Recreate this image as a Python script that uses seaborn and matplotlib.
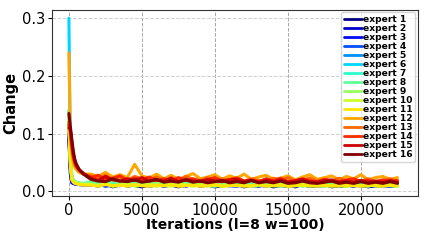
import numpy as np
import pandas as pd
import matplotlib
matplotlib.use("Agg")
import matplotlib.pyplot as plt
import seaborn as sns

# iteration positions
iterations = [0, 100, 200, 300, 400, 500, 700, 1000] + list(range(1500, 23000, 500))

# values in units of 1e-3
early = {
    1: [95, 30, 16, 14, 13, 13, 12, 12],
    2: [100, 40, 18, 15, 14, 13, 12, 12],
    3: [90, 35, 15, 14, 13, 12, 12, 11],
    4: [110, 45, 20, 16, 15, 14, 13, 12],
    5: [120, 50, 22, 17, 15, 14, 13, 13],
    6: [300, 60, 25, 18, 16, 15, 14, 13],
    7: [140, 55, 25, 19, 17, 16, 14, 13],
    8: [140, 60, 26, 20, 18, 16, 15, 14],
    9: [130, 55, 24, 19, 17, 15, 14, 13],
    10: [120, 50, 22, 18, 16, 15, 13, 12],
    11: [110, 45, 20, 16, 14, 13, 12, 11],
    12: [240, 95, 65, 50, 42, 38, 33, 30],
    13: [120, 100, 75, 58, 48, 42, 36, 30],
    14: [115, 105, 80, 62, 50, 44, 37, 31],
    15: [110, 108, 85, 65, 53, 46, 38, 31],
    16: [135, 112, 90, 70, 56, 48, 38, 30],
}
late = {
    1: [12,9,13,8,11,13,10,8,11,12, 9,11,8,12,13,9,11,8,10,12, 12,8,11,9,12,8,10,11,8,12, 9,10,12,8,10,11,9,12,8,10, 11,9,10],
    2: [13,11,28,12,13,10,12,11,12,10, 12,11,13,10,12,11,10,24,11,10, 12,11,9,11,12,10,11,9,12,11, 9,11,10,12,9,11,10,11,10,9, 11,12,10],
    3: [11,13,9,11,14,9,11,13,9,11, 10,13,11,9,12,10,13,9,11,10, 9,12,10,11,9,12,10,9,11,10, 12,9,10,11,9,10,12,9,10,11, 9,10,11],
    4: [13,11,14,12,10,14,12,11,14,10, 12,13,10,14,12,10,13,11,12,13, 10,12,11,13,14,10,11,13,10,12, 11,10,13,11,12,10,11,13,10,11, 12,10,11],
    5: [13,15,11,14,12,15,13,11,14,12, 13,11,14,12,11,14,12,10,12,14, 12,10,13,12,10,14,12,10,12,11, 13,12,10,13,11,12,10,13,11,12, 10,12,13],
    6: [14,12,15,11,13,15,12,11,14,15, 11,13,12,14,11,15,12,11,14,12, 11,13,12,10,14,12,11,10,13,14, 12,10,12,13,10,12,14,10,12,11, 13,12,10],
    7: [16,13,17,12,15,13,12,16,14,12, 15,16,12,14,13,15,12,16,13,14, 12,11,15,13,11,15,13,12,11,15, 13,11,14,15,11,13,12,14,11,13, 12,14,11],
    8: [17,14,13,16,17,13,15,13,17,14, 13,12,16,14,12,16,13,12,15,16, 12,14,13,11,15,12,14,11,13,15, 12,11,14,15,11,13,12,11,14,12, 13,11,14],
    9: [13,11,14,10,12,14,11,10,12,14, 10,12,10,13,11,14,10,9,12,11, 10,12,9,11,13,10,9,11,12,9, 11,10,9,12,11,9,11,10,12,9, 11,10,9],
    10: [12,10,13,9,11,13,9,11,12,9, 11,9,13,11,9,12,10,11,9,12, 10,11,9,12,10,11,12,9,10,11, 9,12,10,9,11,9,11,10,9,12, 10,11,9],
    11: [11,9,12,10,11,9,12,10,9,11, 10,12,9,10,11,9,10,12,9,10, 11,9,10,12,9,10,11,9,10,12, 10,9,11,10,9,11,10,9,12,10, 9,11,10],
    12: [30,26,33,25,29,24,47,27,23,30, 22,28,21,26,31,22,25,29,21,27, 23,30,21,25,28,21,23,27,20,25, 29,21,24,27,20,26,22,29,20,24, 26,21,24],
    13: [27,22,28,21,25,19,26,22,20,25, 19,24,18,26,21,19,24,18,22,19, 24,18,22,19,18,23,19,24,18,20, 23,18,21,18,23,18,21,18,22,17, 19,22,18],
    14: [24,28,21,23,27,19,23,20,25,19, 22,18,24,19,22,18,20,24,18,21, 23,18,20,17,22,18,23,17,19,22, 18,17,21,18,17,20,22,17,19,17, 20,17,19],
    15: [23,19,26,20,18,22,19,24,18,20, 18,23,17,21,18,17,21,18,17,20, 21,17,19,16,20,17,20,16,18,21, 17,16,19,20,16,18,16,19,16,18, 16,19,16],
    16: [21,18,17,22,18,17,20,16,18,21, 16,18,16,20,16,18,15,17,19,15, 17,15,19,15,17,15,18,14,15,18, 15,14,16,18,14,16,14,17,14,16, 14,17,14],
}
labels = [f"expert {i}" for i in range(1, 17)]

rows = []
for i in range(1, 17):
    vals = early[i] + late[i]
    for x, v in zip(iterations, vals):
        rows.append({"Iterations": x, "Change": v / 1000.0, "expert": f"expert {i}"})
df = pd.DataFrame(rows)

sns.set_style("ticks")
plt.rcParams['font.family'] = ['DejaVu Sans']
plt.rcParams['text.color'] = 'black'
plt.rcParams['axes.labelcolor'] = 'black'
plt.rcParams['xtick.color'] = 'black'
plt.rcParams['ytick.color'] = 'black'

fig = plt.figure(figsize=(4.26, 2.4), dpi=100)
ax = fig.add_axes([0.122, 0.183, 0.859, 0.777])
palette = [plt.cm.jet(v) for v in np.linspace(0, 1, 16)]
sns.lineplot(data=df, x="Iterations", y="Change", hue="expert", hue_order=labels,
             palette=palette, linewidth=2.2, ax=ax, legend=True)

ax.set_xlim(-1160, 23900)
ax.set_ylim(-0.008, 0.315)
ax.set_xticks([0, 5000, 10000, 15000, 20000])
ax.set_yticks([0.0, 0.1, 0.2, 0.3])
ax.xaxis.grid(True, linestyle='--', color='#a8a8a8', linewidth=0.7)
ax.yaxis.grid(True, linestyle='--', color='#d0d0d0', linewidth=0.7)
ax.set_axisbelow(True)
ax.tick_params(labelsize=10.5, length=3, width=0.8, pad=2)
for s in ax.spines.values():
    s.set_color('#333333')
    s.set_linewidth(0.8)
ax.set_xlabel("Iterations (l=8 w=100)", fontsize=10, fontweight='bold', labelpad=0)
ax.set_ylabel("Change", fontsize=10.5, fontweight='bold', labelpad=2)

leg = ax.legend(loc='upper right', prop={'size': 6.6, 'weight': 'bold'},
                labelspacing=0.0, handlelength=2.0, handletextpad=0.1,
                borderaxespad=0.3, borderpad=0.3, frameon=True)
for h in leg.get_lines():
    h.set_linewidth(2)

fig.savefig("out.png", dpi=100)
